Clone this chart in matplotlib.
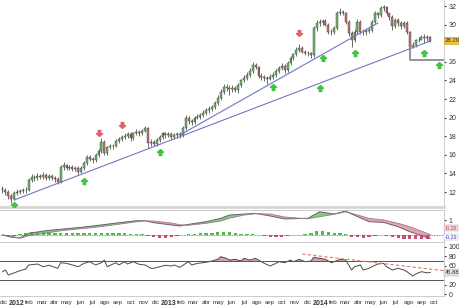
import matplotlib
matplotlib.use('agg')
import matplotlib.pyplot as plt
from matplotlib.path import Path
import numpy as np
import pandas as pd

plt.rcParams['font.family'] = ['Liberation Sans', 'DejaVu Sans']

# weekly candles, first one on 2011-12-09
first_open = 12.4
closes = [
    12.2, 12.0, 11.6, 11.3, 11.9, 12.0, 12.1, 12.2, 12.2, 13.3,
    13.6, 13.5, 13.7, 13.6, 13.8, 13.5, 13.7, 13.5, 13.4, 13.1,
    14.7, 14.9, 14.6, 14.7, 14.5, 14.6, 14.2, 14.6, 15.1, 15.8,
    15.6, 15.4, 16.0, 16.4, 17.4, 16.2, 16.8, 17.0, 16.9, 17.5,
    17.7, 17.9, 18.0, 18.2, 17.8, 18.3, 18.5, 18.3, 18.6, 18.9,
    17.3, 17.4, 17.2, 17.6, 17.9, 18.3, 18.1, 18.2, 17.9, 18.1,
    18.2, 18.1, 18.9, 20.0, 19.6, 19.5, 20.0, 20.1, 20.3, 20.5,
    20.8, 20.9, 21.1, 21.6, 22.1, 22.8, 23.3, 23.2, 23.1, 23.2,
    23.0, 23.5, 24.0, 24.3, 24.6, 25.0, 25.7, 25.4, 24.5, 24.4,
    24.3, 24.2, 24.4, 24.6, 25.0, 25.3, 25.6, 25.1, 25.9, 26.4,
    26.8, 27.3, 27.5, 27.1, 27.0, 26.9, 26.7, 29.6, 30.2, 30.3,
    30.4, 30.0, 29.2, 29.2, 29.6, 31.2, 31.4, 31.3, 30.3, 29.1,
    28.3, 29.2, 30.3, 29.2, 29.2, 29.3, 29.4, 30.3, 31.2, 31.0,
    31.8, 31.9, 31.2, 30.8, 29.8, 30.5, 30.2, 29.8, 30.2, 29.2,
    27.6, 27.8, 28.3, 28.4, 28.7, 28.6, 28.7, 28.29,
]
highs = [
    12.6, 12.4, 12.2, 11.8, 12.1, 12.3, 12.3, 12.4, 12.5, 13.5,
    13.9, 13.8, 14.0, 13.9, 14.1, 14.0, 13.9, 13.9, 13.7, 13.6,
    14.9, 15.2, 15.0, 14.9, 14.9, 14.8, 14.8, 14.8, 15.3, 16.0,
    16.0, 15.8, 16.2, 16.6, 17.8, 17.6, 17.0, 17.2, 17.2, 17.7,
    17.9, 18.1, 18.3, 18.4, 18.4, 18.5, 18.8, 18.7, 18.8, 19.1,
    19.0, 17.7, 17.6, 17.8, 18.1, 18.5, 18.5, 18.4, 18.4, 18.3,
    18.4, 18.4, 19.1, 20.3, 20.2, 19.9, 20.2, 20.4, 20.5, 20.8,
    21.0, 21.2, 21.4, 21.8, 22.4, 23.1, 23.6, 23.6, 23.5, 23.5,
    23.4, 23.7, 24.2, 24.6, 24.9, 25.3, 26.0, 25.9, 25.6, 24.8,
    24.6, 24.5, 24.7, 24.9, 25.2, 25.6, 25.9, 25.8, 26.1, 26.6,
    27.0, 27.6, 27.9, 27.7, 27.3, 27.2, 27.1, 29.9, 30.5, 30.6,
    30.6, 30.6, 30.2, 29.5, 29.8, 31.5, 31.8, 31.6, 31.4, 30.5,
    29.3, 29.5, 30.6, 30.5, 29.5, 29.6, 29.6, 30.5, 31.5, 31.4,
    32.0, 32.1, 32.0, 31.3, 31.0, 30.7, 30.7, 30.4, 30.4, 30.4,
    29.3, 28.1, 28.5, 28.7, 28.9, 29.0, 28.9, 28.8,
]
lows = [
    11.9, 11.7, 11.3, 10.8, 11.1, 11.7, 11.8, 11.9, 11.9, 12.1,
    13.1, 13.2, 13.3, 13.4, 13.4, 13.3, 13.3, 13.3, 13.1, 12.9,
    13.0, 14.4, 14.4, 14.4, 14.3, 14.3, 13.9, 14.0, 14.4, 14.9,
    15.3, 15.1, 15.2, 15.8, 16.2, 16.0, 16.0, 16.6, 16.6, 16.8,
    17.3, 17.5, 17.7, 17.8, 17.5, 17.6, 18.1, 18.0, 18.1, 18.4,
    16.7, 17.0, 16.9, 17.0, 17.4, 17.7, 17.8, 17.9, 17.6, 17.7,
    17.8, 17.8, 17.9, 18.7, 19.3, 19.2, 19.3, 19.8, 19.9, 20.1,
    20.3, 20.5, 20.7, 20.9, 21.4, 21.9, 22.5, 22.9, 22.4, 22.8,
    22.8, 22.7, 23.3, 23.8, 24.0, 24.4, 24.8, 25.2, 24.3, 24.0,
    23.9, 23.6, 24.0, 24.2, 24.4, 24.8, 25.1, 24.8, 24.9, 25.7,
    26.2, 26.6, 27.1, 26.9, 26.7, 26.6, 26.4, 26.5, 29.3, 29.9,
    30.0, 29.8, 29.0, 28.9, 29.0, 29.4, 31.0, 31.0, 30.1, 28.8,
    27.6, 28.1, 29.0, 29.0, 28.9, 28.9, 29.1, 29.2, 30.1, 30.7,
    30.8, 31.5, 31.0, 30.5, 29.4, 29.6, 29.9, 29.5, 29.6, 29.0,
    27.3, 27.5, 27.6, 28.1, 28.3, 28.0, 28.2, 28.1,
]

# trend lines and support drawn on the price panel
trend1_dates = ['2012-01-06', '2014-10-03']
trend1_prices = [11.14, 28.24]
trend2_dates = ['2013-02-08', '2014-05-30']
trend2_prices = [18.13, 30.17]
support_dates = ['2014-08-15', '2014-08-15', '2014-11-05']
support_prices = [27.6, 26.2, 26.2]

# signal arrows
buy_dates = ['2012-01-06', '2012-06-22', '2012-12-21', '2013-09-20', '2014-01-10',
             '2014-01-17', '2014-04-04', '2014-09-19', '2014-10-24']
buy_prices = [10.6, 13.2, 16.3, 23.3, 23.2, 26.4, 26.9, 26.9, 25.7]
sell_dates = ['2012-07-27', '2012-09-21', '2013-11-22']
sell_prices = [18.3, 19.2, 29.1]

# MACD (sampled at candle indices)
macd_idx = [0, 3, 6, 9, 15, 20, 27, 34, 40, 46, 49, 52, 58, 61, 64, 70, 75, 78, 83, 87,
            92, 97, 102, 105, 109, 114, 118, 120, 126, 131, 136, 140, 145, 147]
macd_vals = [0.0, -0.15, -0.2, 0.11, 0.29, 0.38, 0.51, 0.67, 0.82, 0.95, 0.95, 0.82, 0.67, 0.6,
             0.71, 0.89, 1.11, 1.33, 1.4, 1.44, 1.27, 1.07, 1.1, 1.12, 1.55, 1.4, 1.6, 1.4,
             0.89, 0.84, 0.55, 0.22, -0.11, -0.24]
signal_vals = [0.0, -0.08, -0.22, -0.05, 0.12, 0.28, 0.42, 0.56, 0.72, 0.88, 0.94, 0.93, 0.8, 0.68,
               0.65, 0.78, 0.93, 1.12, 1.33, 1.42, 1.4, 1.2, 1.12, 1.08, 1.22, 1.38, 1.55, 1.45,
               1.11, 1.0, 0.78, 0.55, 0.18, 0.02]
# histogram, every second candle
hist_vals = [
    0, -0.05, -0.05, 0.05, 0.15, 0.2, 0.22, 0.2, 0.18, 0.12,
    0.1, 0.15, 0.12, 0.1, 0.1, 0.12, 0.1, 0.12, 0.15, 0.1,
    0.1, 0.1, 0.08, 0.08, 0.05, -0.05, -0.15, -0.2, -0.18, -0.15,
    -0.1, -0.02, 0.05, 0.08, 0.1, 0.12, 0.15, 0.18, 0.2, 0.2,
    0.15, 0.08, 0.05, 0.04, -0.02, -0.1, -0.15, -0.15, -0.12, -0.08,
    -0.03, 0.0, 0.05, 0.12, 0.28, 0.25, 0.2, 0.15, 0.12, 0.05,
    -0.12, -0.15, -0.18, -0.12, -0.05, -0.02, -0.08, -0.15, -0.22, -0.28,
    -0.3, -0.3, -0.3, -0.28,
]

# RSI
rsi_idx = [0, 1, 2, 4, 6, 8, 9, 12, 14, 16, 19, 20, 22, 24, 26, 28, 30, 32, 34, 35,
           36, 38, 39, 40, 42, 43, 45, 47, 49, 51, 52, 54, 56, 58, 59, 61, 63, 64, 65, 67,
           69, 71, 74, 75, 77, 78, 80, 82, 83, 85, 87, 88, 90, 92, 94, 95, 97, 99, 100, 102,
           104, 106, 107, 109, 111, 113, 114, 116, 118, 119, 120, 121, 123, 124, 126, 127, 129, 131, 132, 134,
           136, 138, 139, 141, 142, 144, 146, 147]
rsi_vals = [47.5, 51, 40.5, 45, 49.6, 53, 61.6, 63.7, 58, 61,
            54.6, 66.4, 65, 61.6, 58, 65, 68.5, 61.6, 66.4, 72,
            58, 63.7, 66.4, 61.6, 68.5, 63.7, 68.5, 63, 61.6, 54.6,
            54.6, 58, 61, 59.5, 61.6, 56.7, 65, 68.5, 61.6, 65,
            66.4, 68.5, 73.6, 79, 75.6, 72, 73.6, 70, 75.6, 72,
            75.6, 72, 65, 59.5, 65, 68.5, 66.4, 72, 68.5, 73.6,
            68.5, 70, 77.8, 75.6, 73.6, 66.4, 68.5, 73.6, 72, 61.6,
            51, 58, 61.6, 51, 54.6, 58, 63.7, 65, 58, 51,
            54.6, 51, 47.5, 38.4, 42.6, 47.5, 45, 45.88]
rsi_trend_dates = ['2013-11-29', '2014-11-05']
rsi_trend_vals = [84.7, 49.6]

month_names = ['', 'feb', 'mar', 'abr', 'may', 'jun', 'jul', 'ago', 'sep', 'oct', 'nov', 'dic']

dates = pd.date_range('2011-12-09', periods=len(closes), freq='7D')
c = np.array(closes)
o = np.r_[first_open, c[:-1]]

fig = plt.figure(figsize=(4.6, 3.08), dpi=100)
ax = fig.add_axes([0, 0.328, 0.965, 0.672])
ax_m = fig.add_axes([0, 0.2143, 0.965, 0.1039], sharex=ax)
ax_r = fig.add_axes([0, 0.039, 0.965, 0.172], sharex=ax)

# candles
up = c >= o
body = np.maximum(np.abs(c - o), 0.06)
ax.vlines(dates, lows, highs, color='#333333', lw=0.5, zorder=2)
ax.bar(dates, body, bottom=np.minimum(o, c), width=4.6,
       color=np.where(up, '#6cbb6c', '#c97272'), edgecolor='#3a3a3a', linewidth=0.3, zorder=3)

ax.plot(pd.to_datetime(trend1_dates), trend1_prices, color='#7474c4', lw=0.8, zorder=4)
ax.plot(pd.to_datetime(trend2_dates), trend2_prices, color='#7474c4', lw=0.8, zorder=4)
ax.plot(pd.to_datetime(support_dates), support_prices, color='#8c8c8c', lw=1.3, zorder=4)

up_arrow = Path([(0, 1), (-1, 0.05), (-0.42, 0.05), (-0.42, -1), (0.42, -1), (0.42, 0.05), (1, 0.05), (0, 1)])
down_arrow = Path([(x, -y) for x, y in up_arrow.vertices])
ax.plot(pd.to_datetime(buy_dates), buy_prices, ls='none', marker=up_arrow, ms=4.3,
        color='#3ec43e', mec='#3ec43e', zorder=5)
ax.plot(pd.to_datetime(sell_dates), sell_prices, ls='none', marker=down_arrow, ms=4.3,
        color='#e06262', mec='#e06262', zorder=5)

ax.set_ylim(10.39, 32.65)
ax.set_xlim(pd.Timestamp('2011-12-03'), pd.Timestamp('2014-11-05'))
ax.yaxis.tick_right()
price_ticks = list(range(12, 33, 2))
ax.set_yticks(price_ticks)
# the last-price box sits over the 28 label
ax.set_yticklabels(['' if t == 28 else str(t) for t in price_ticks])
ax.tick_params(axis='y', labelsize=5, length=1.5, pad=2, colors='#333333')
ax.tick_params(axis='x', bottom=False, labelbottom=False)
ax.text(1.002, closes[-1], f'{closes[-1]:.2f}', transform=ax.get_yaxis_transform(),
        fontsize=4.3, va='center', ha='left', color='#333333', zorder=10,
        bbox=dict(boxstyle='square,pad=0.12', fc='#f2c23a', ec='#c89a20', lw=0.4))

# MACD panel
md = dates[macd_idx]
mv = np.array(macd_vals)
sv = np.array(signal_vals)
ax_m.fill_between(md, mv, sv, where=mv >= sv, interpolate=True, color='#7fcf7f', lw=0)
ax_m.fill_between(md, mv, sv, where=mv < sv, interpolate=True, color='#e8a2ae', lw=0)
ax_m.plot(md, mv, color='#6a5d7a', lw=0.7)
ax_m.plot(md, sv, color='#9a7a8a', lw=0.6)
hv = np.array(hist_vals)
ax_m.bar(dates[::2], hv, width=8, color=np.where(hv >= 0, '#52b852', '#cc4f70'), lw=0)
ax_m.axhline(0, color='#5a5ad0', lw=0.6, ls=(0, (1, 1)))
ax_m.set_ylim(-0.47, 1.67)
ax_m.yaxis.tick_right()
ax_m.set_yticks([1])
ax_m.tick_params(axis='y', labelsize=5, length=1.5, pad=2, colors='#333333')
ax_m.tick_params(axis='x', bottom=False, labelbottom=False)
ax_m.text(1.002, 0.43, '-0.26', transform=ax_m.transAxes, fontsize=4, va='center',
          color='#b04060', bbox=dict(boxstyle='square,pad=0.08', fc='#f6dbe2', ec='#d08a9a', lw=0.3))
ax_m.text(1.002, 0.15, '-0.29', transform=ax_m.transAxes, fontsize=4, va='center',
          color='#3a3ac0', bbox=dict(boxstyle='square,pad=0.08', fc='white', ec='#9a9ad8', lw=0.3))

# RSI panel
rd = dates[rsi_idx]
rv = np.array(rsi_vals)
ax_r.fill_between(rd, rv, 70, where=rv > 70, interpolate=True, color='#d9a3ae', lw=0)
ax_r.plot(rd, rv, color='#4a4a4a', lw=0.7)
ax_r.axhline(70, color='#555555', lw=0.7)
ax_r.axhline(30, color='#555555', lw=0.7)
ax_r.plot(pd.to_datetime(rsi_trend_dates), rsi_trend_vals, color='#e07a6a', lw=0.8, ls=(0, (3, 2)))
ax_r.set_ylim(-3.7, 107.9)
ax_r.yaxis.tick_right()
rsi_ticks = [0, 20, 40, 60, 80, 100]
ax_r.set_yticks(rsi_ticks)
# the last-value box sits over the 40 label
ax_r.set_yticklabels(['' if t == 40 else str(t) for t in rsi_ticks])
ax_r.tick_params(axis='y', labelsize=5, length=1.5, pad=2, colors='#333333')
ax_r.text(1.002, rsi_vals[-1], f'{rsi_vals[-1]:.2f}', transform=ax_r.get_yaxis_transform(),
          fontsize=4.2, va='center', color='#333333', zorder=10,
          bbox=dict(boxstyle='square,pad=0.1', fc='#e4e4e4', ec='#a0a0a0', lw=0.3))

# month axis: labels centred a little after each month start
months = pd.date_range('2011-12-01', '2014-10-01', freq='MS')
ax_r.set_xticks(months + pd.Timedelta(days=11))
labels = [str(m.year) if m.month == 1 else month_names[m.month - 1] for m in months]
ax_r.set_xticklabels(labels)
ax_r.tick_params(axis='x', labelsize=4.5, length=0, pad=3, colors='#333333')
for lab in ax_r.get_xticklabels():
    if lab.get_text().isdigit():
        lab.set_fontweight('bold')
        lab.set_fontsize(5)

for a in (ax, ax_m, ax_r):
    for side in ('left', 'top'):
        a.spines[side].set_visible(False)
    for side in ('right', 'bottom'):
        a.spines[side].set_color('#c4c4c4')
        a.spines[side].set_linewidth(0.6)
ax.spines['bottom'].set_linewidth(2)
ax.spines['bottom'].set_color('#d6d6d6')
ax_m.spines['top'].set_visible(True)
ax_m.spines['top'].set_color('#c4c4c4')
ax_m.spines['top'].set_linewidth(0.6)

fig.savefig('out.png', dpi=100, facecolor='white')
